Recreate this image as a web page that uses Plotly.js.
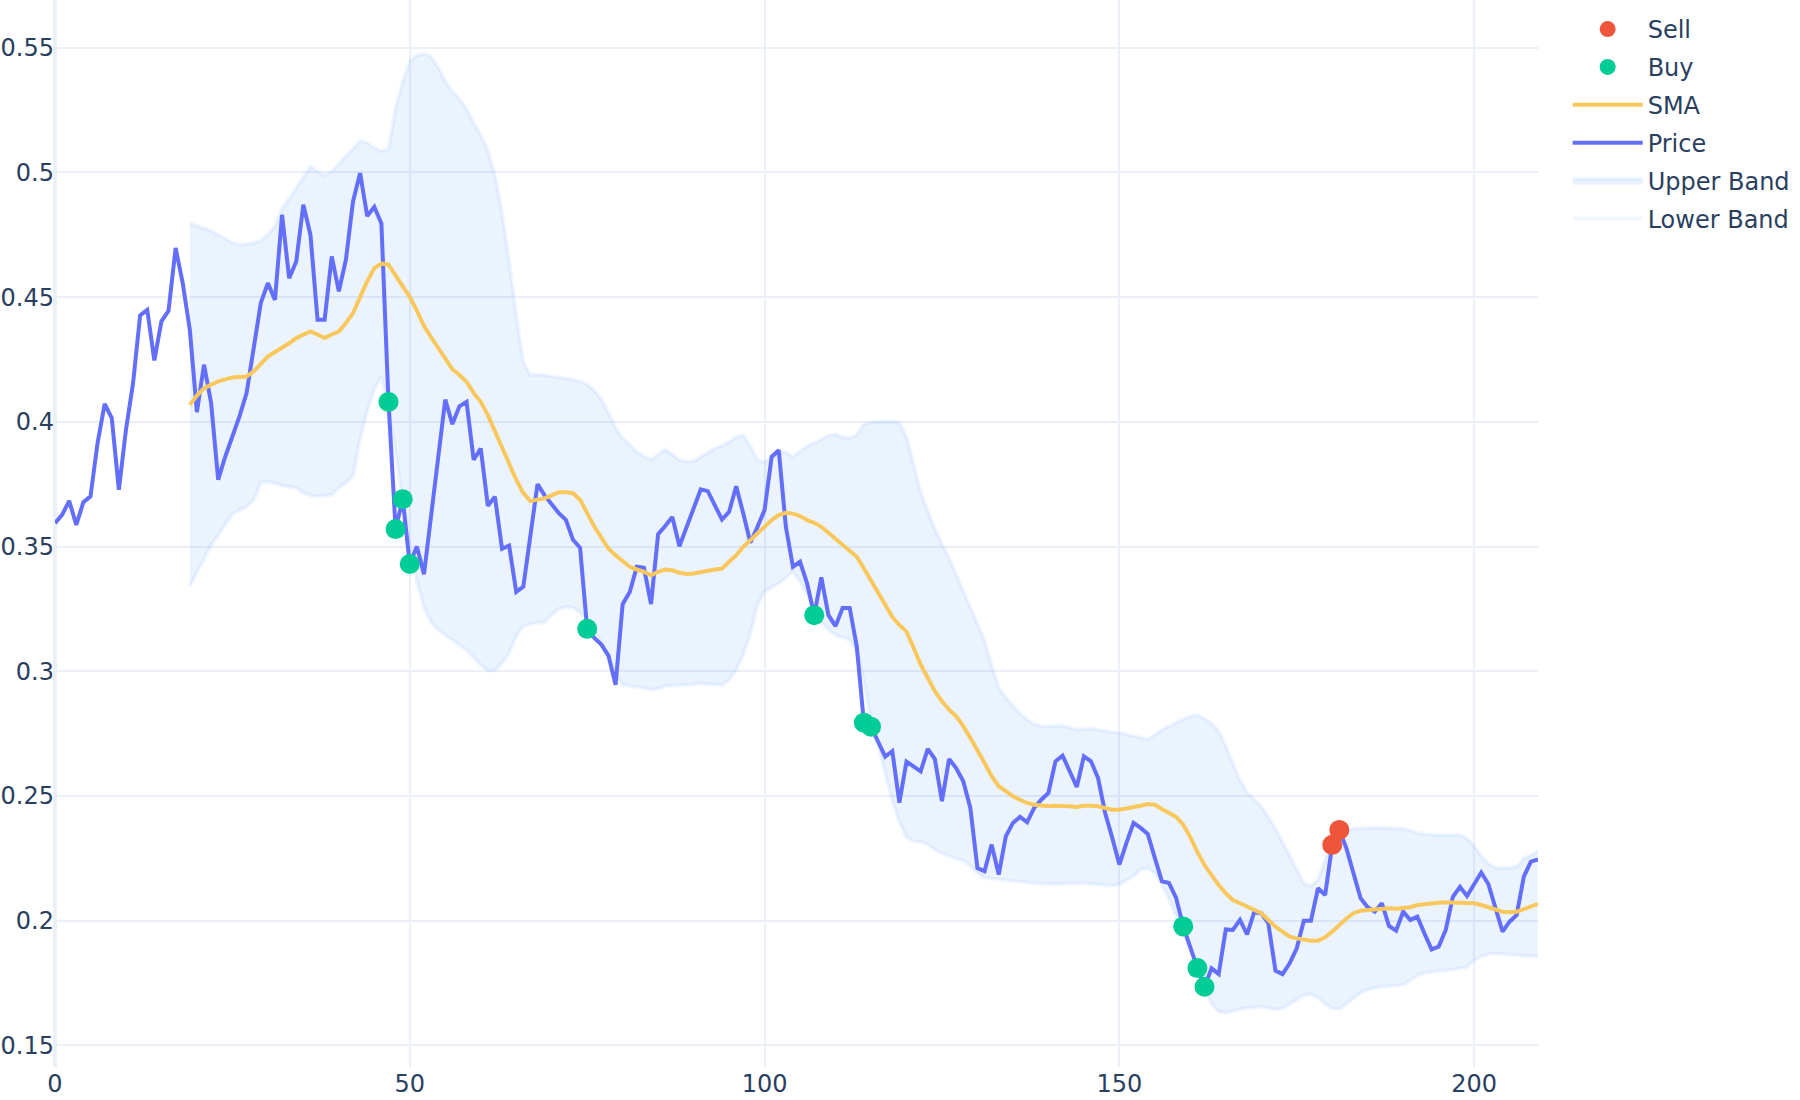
<!DOCTYPE html>
<html>
<head>
<meta charset="utf-8">
<script src="https://cdn.plot.ly/plotly-3.0.1.min.js"></script>
<style>html,body{margin:0;padding:0;background:#fff;}#chart{width:1800px;height:1100px;}</style>
</head>
<body>
<div id="chart"></div>
<script>
// Price series, index 0..209
const price = [
0.3594,0.3627,0.3683,0.3587,0.3678,0.3701,0.3915,0.4072,0.4015,0.3728,
0.3968,0.4155,0.4427,0.4449,0.4246,0.4403,0.4445,0.4697,0.4556,0.4369,
0.4039,0.4229,0.4075,0.3768,0.3861,0.3939,0.4022,0.4115,0.4302,0.4476,
0.4556,0.4489,0.4830,0.4576,0.4643,0.4870,0.4750,0.4409,0.4409,0.4663,
0.4523,0.4650,0.4884,0.4997,0.4825,0.4862,0.4795,0.4080,0.3570,0.3690,
0.3430,0.3500,0.3389,0.3625,0.3857,0.4089,0.3991,0.4062,0.4080,0.3848,
0.3893,0.3664,0.3700,0.3491,0.3504,0.3318,0.3339,0.3545,0.3750,0.3705,
0.3670,0.3634,0.3607,0.3527,0.3495,0.3170,0.3134,0.3107,0.3063,0.2946,
0.3269,0.3318,0.3419,0.3415,0.3269,0.3550,0.3582,0.3619,0.3501,0.3579,
0.3657,0.3729,0.3722,0.3666,0.3608,0.3639,0.3742,0.3632,0.3515,0.3579,
0.3646,0.3860,0.3886,0.3579,0.3419,0.3439,0.3352,0.3225,0.3376,0.3225,
0.3181,0.3254,0.3254,0.3098,0.2794,0.2778,0.2718,0.2658,0.2680,0.2473,
0.2638,0.2619,0.2599,0.2689,0.2648,0.2479,0.2648,0.2612,0.2559,0.2452,
0.2211,0.2198,0.2305,0.2185,0.2338,0.2392,0.2416,0.2395,0.2452,0.2485,
0.2512,0.2639,0.2662,0.2599,0.2536,0.2659,0.2639,0.2572,0.2432,0.2332,
0.2225,0.2312,0.2392,0.2372,0.2348,0.2252,0.2158,0.2151,0.2091,0.1977,
0.1889,0.1810,0.1735,0.1809,0.1786,0.1965,0.1963,0.2003,0.1945,0.2034,
0.2030,0.1989,0.1800,0.1786,0.1829,0.1889,0.2000,0.2000,0.2130,0.2103,
0.2304,0.2364,0.2290,0.2190,0.2090,0.2054,0.2036,0.2070,0.1979,0.1960,
0.2036,0.2003,0.2016,0.1949,0.1885,0.1896,0.1963,0.2096,0.2136,0.2099,
0.2150,0.2193,0.2147,0.2056,0.1956,0.1996,0.2023,0.2177,0.2237,0.2246
];

// 20-period SMA and bands, index 19..209
const bandStart = 19;
const sma = [
0.4068,0.4105,0.4135,0.4150,0.4162,0.4170,0.4178,0.4180,0.4182,0.4202,
0.4235,0.4262,0.4280,0.4296,0.4315,0.4336,0.4350,0.4362,0.4350,0.4336,
0.4350,0.4362,0.4396,0.4436,0.4500,0.4563,0.4616,0.4634,0.4630,0.4589,
0.4545,0.4500,0.4446,0.4384,0.4339,0.4295,0.4250,0.4211,0.4188,0.4161,
0.4116,0.4080,0.4027,0.3964,0.3893,0.3830,0.3768,0.3714,0.3682,0.3688,
0.3693,0.3705,0.3718,0.3718,0.3714,0.3688,0.3634,0.3580,0.3536,0.3491,
0.3465,0.3440,0.3419,0.3408,0.3399,0.3385,0.3399,0.3408,0.3405,0.3395,
0.3390,0.3392,0.3399,0.3403,0.3408,0.3412,0.3439,0.3465,0.3499,0.3526,
0.3552,0.3579,0.3606,0.3626,0.3635,0.3632,0.3622,0.3606,0.3595,0.3579,
0.3555,0.3532,0.3509,0.3485,0.3459,0.3412,0.3365,0.3312,0.3265,0.3218,
0.3185,0.3160,0.3094,0.3027,0.2973,0.2920,0.2880,0.2846,0.2820,0.2780,
0.2733,0.2686,0.2632,0.2579,0.2539,0.2519,0.2499,0.2485,0.2472,0.2465,
0.2461,0.2459,0.2461,0.2461,0.2459,0.2456,0.2461,0.2461,0.2459,0.2452,
0.2445,0.2445,0.2449,0.2456,0.2461,0.2468,0.2465,0.2448,0.2432,0.2416,
0.2385,0.2335,0.2275,0.2223,0.2183,0.2143,0.2110,0.2083,0.2070,0.2056,
0.2043,0.2030,0.2003,0.1976,0.1956,0.1936,0.1929,0.1923,0.1920,0.1920,
0.1933,0.1956,0.1983,0.2009,0.2030,0.2040,0.2043,0.2046,0.2048,0.2050,
0.2048,0.2050,0.2054,0.2063,0.2067,0.2070,0.2072,0.2074,0.2074,0.2074,
0.2074,0.2070,0.2063,0.2054,0.2043,0.2036,0.2034,0.2036,0.2046,0.2056,
0.2067
];
const upperBand = [
0.4797,0.4785,0.4776,0.4766,0.4750,0.4732,0.4718,0.4710,0.4712,0.4717,
0.4728,0.4750,0.4785,0.4855,0.4895,0.4937,0.4985,0.5025,0.5005,0.4988,
0.5005,0.5035,0.5060,0.5095,0.5128,0.5118,0.5100,0.5085,0.5093,0.5260,
0.5365,0.5445,0.5470,0.5475,0.5465,0.5422,0.5365,0.5325,0.5295,0.5255,
0.5200,0.5150,0.5090,0.4990,0.4840,0.4650,0.4430,0.4240,0.4187,0.4190,
0.4187,0.4183,0.4180,0.4175,0.4170,0.4163,0.4150,0.4128,0.4090,0.4036,
0.3975,0.3935,0.3905,0.3880,0.3862,0.3848,0.3870,0.3890,0.3870,0.3846,
0.3842,0.3842,0.3860,0.3878,0.3895,0.3905,0.3920,0.3940,0.3947,0.3905,
0.3845,0.3840,0.3855,0.3875,0.3880,0.3860,0.3880,0.3903,0.3915,0.3930,
0.3945,0.3950,0.3938,0.3935,0.3950,0.3990,0.3998,0.4000,0.4000,0.4000,
0.3995,0.3940,0.3830,0.3720,0.3645,0.3570,0.3510,0.3455,0.3390,0.3325,
0.3255,0.3195,0.3125,0.3025,0.2935,0.2895,0.2860,0.2830,0.2806,0.2790,
0.2779,0.2779,0.2780,0.2782,0.2774,0.2766,0.2770,0.2772,0.2765,0.2759,
0.2756,0.2753,0.2746,0.2739,0.2732,0.2728,0.2745,0.2765,0.2780,0.2795,
0.2808,0.2820,0.2825,0.2810,0.2790,0.2760,0.2700,0.2630,0.2564,0.2515,
0.2485,0.2460,0.2415,0.2370,0.2315,0.2260,0.2200,0.2150,0.2140,0.2165,
0.2245,0.2310,0.2345,0.2362,0.2370,0.2372,0.2373,0.2374,0.2374,0.2372,
0.2371,0.2370,0.2362,0.2352,0.2348,0.2345,0.2344,0.2344,0.2344,0.2344,
0.2330,0.2300,0.2260,0.2230,0.2213,0.2210,0.2212,0.2217,0.2250,0.2265,
0.2277
];
const lowerBand = [
0.3340,0.3395,0.3455,0.3505,0.3545,0.3590,0.3630,0.3645,0.3660,0.3685,
0.3755,0.3760,0.3755,0.3743,0.3741,0.3735,0.3715,0.3705,0.3701,0.3703,
0.3707,0.3735,0.3755,0.3781,0.3930,0.4040,0.4130,0.4180,0.4050,0.3875,
0.3680,0.3500,0.3360,0.3255,0.3195,0.3165,0.3145,0.3125,0.3105,0.3085,
0.3055,0.3025,0.3002,0.3005,0.3030,0.3071,0.3140,0.3180,0.3190,0.3193,
0.3196,0.3225,0.3250,0.3258,0.3255,0.3235,0.3205,0.3160,0.3115,0.3050,
0.2985,0.2945,0.2942,0.2940,0.2933,0.2925,0.2930,0.2940,0.2944,0.2944,
0.2944,0.2948,0.2951,0.2948,0.2945,0.2944,0.2965,0.3005,0.3065,0.3150,
0.3265,0.3318,0.3335,0.3352,0.3375,0.3399,0.3360,0.3305,0.3245,0.3195,
0.3165,0.3145,0.3135,0.3125,0.3075,0.2960,0.2795,0.2700,0.2590,0.2480,
0.2395,0.2335,0.2318,0.2315,0.2305,0.2285,0.2270,0.2258,0.2248,0.2240,
0.2220,0.2190,0.2172,0.2168,0.2165,0.2160,0.2155,0.2153,0.2151,0.2150,
0.2148,0.2145,0.2146,0.2148,0.2150,0.2151,0.2150,0.2147,0.2145,0.2142,
0.2139,0.2145,0.2160,0.2178,0.2205,0.2210,0.2190,0.2145,0.2085,0.2020,
0.1955,0.1884,0.1810,0.1730,0.1665,0.1635,0.1630,0.1638,0.1645,0.1649,
0.1652,0.1655,0.1650,0.1644,0.1648,0.1665,0.1682,0.1700,0.1705,0.1690,
0.1665,0.1648,0.1645,0.1668,0.1690,0.1710,0.1724,0.1730,0.1734,0.1737,
0.1739,0.1742,0.1760,0.1780,0.1790,0.1796,0.1798,0.1800,0.1802,0.1808,
0.1815,0.1840,0.1855,0.1866,0.1868,0.1865,0.1862,0.1860,0.1858,0.1857,
0.1856
];

// Signals
const buyX = [47, 48, 49, 50, 75, 107, 114, 115, 159, 161, 162];
const buyY = [0.408, 0.357, 0.369, 0.343, 0.317, 0.3225, 0.2794, 0.2778, 0.1977, 0.181, 0.1735];
const sellX = [180, 181];
const sellY = [0.2304, 0.2364];

const xPrice = price.map((_, i) => i);
const xBand = sma.map((_, i) => i + bandStart);

const bandLine = 'rgba(0,100,255,0.06)';
const bandFill = 'rgba(0,100,255,0.08)';

const traces = [
  {x: xBand, y: lowerBand, type: 'scatter', mode: 'lines', name: 'Lower Band', legendgroup: 'g1', legendrank: 6,
   line: {color: bandLine, width: 4}},
  {x: xBand, y: upperBand, type: 'scatter', mode: 'lines', name: 'Upper Band', legendgroup: 'g2', legendrank: 5,
   line: {color: bandLine, width: 4}, fill: 'tonexty', fillcolor: bandFill},
  {x: xPrice, y: price, type: 'scatter', mode: 'lines', name: 'Price', legendgroup: 'g3', legendrank: 4,
   line: {color: '#636EFA', width: 4}},
  {x: xBand, y: sma, type: 'scatter', mode: 'lines', name: 'SMA', legendgroup: 'g4', legendrank: 3,
   line: {color: '#F8C85C', width: 4}},
  {x: buyX, y: buyY, type: 'scatter', mode: 'markers', name: 'Buy', legendgroup: 'g5', legendrank: 2,
   marker: {color: '#00CC96', size: 20}},
  {x: sellX, y: sellY, type: 'scatter', mode: 'markers', name: 'Sell', legendgroup: 'g6', legendrank: 1,
   marker: {color: '#EF553B', size: 20}}
];

const layout = {
  width: 1800, height: 1100,
  template: 'plotly_white',
  paper_bgcolor: '#ffffff', plot_bgcolor: '#ffffff',
  font: {family: 'DejaVu Sans, Verdana, sans-serif', size: 24, color: '#2a3f5f'},
  margin: {l: 55, r: 262, t: 0, b: 33, pad: 0},
  showlegend: true,
  legend: {traceorder: 'grouped', tracegroupgap: 3.7, font: {size: 24, color: '#2a3f5f'},
           itemwidth: 70, x: 1.02, y: 0.9935, xanchor: 'left', yanchor: 'top'},
  xaxis: {range: [0, 209], dtick: 50, tick0: 0, showgrid: true, gridcolor: '#EBF0F8', gridwidth: 2,
          zeroline: true, zerolinecolor: '#EBF0F8', zerolinewidth: 4, showline: false, ticks: ''},
  yaxis: {range: [0.14134, 0.56912], dtick: 0.05, tick0: 0, showgrid: true, gridcolor: '#EBF0F8', gridwidth: 2,
          zeroline: false, showline: false, ticks: ''}
};

Plotly.newPlot('chart', traces, layout, {displayModeBar: false, staticPlot: true});
</script>
</body>
</html>
